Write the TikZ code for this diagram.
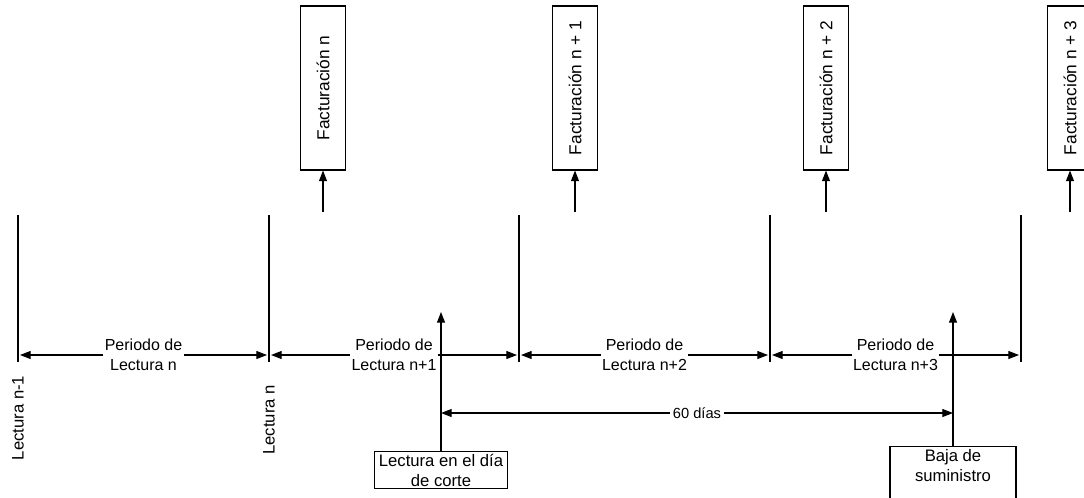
\documentclass[tikz,border=0pt]{standalone}
\usepackage{fontspec}
\setmainfont{Liberation Sans}
\usetikzlibrary{arrows.meta}
\begin{document}
\begin{tikzpicture}[x=0.75pt,y=-0.75pt,
  line width=0.8pt,
  tip/.style={-{Triangle[length=8pt,width=6pt]}},
  dbl/.style={{Triangle[length=8pt,width=6pt]}-{Triangle[length=8pt,width=6pt]}},
  per/.style={fill=white, align=center, font=\fontsize{12}{15}\selectfont, inner sep=1pt},
  rot/.style={rotate=90, font=\fontsize{12.5}{15}\selectfont},
  fact/.style={draw, rotate=90, minimum width=123pt, minimum height=34pt, font=\fontsize{13}{16}\selectfont, inner sep=2pt},
  evbox/.style={draw, align=center, font=\fontsize{12.5}{15}\selectfont, inner xsep=3pt, inner ysep=2pt},
  dur/.style={fill=white, font=\fontsize{11}{13}\selectfont, inner sep=2pt}]
\useasboundingbox (0,0) rectangle (1084,497);

% reading ticks
\foreach \i/\x in {0/18,1/269,2/519,3/770,4/1021} {
  \coordinate (t\i) at (\x,215);
  \coordinate (m\i) at (\x,355);
  \coordinate (b\i) at (\x,362);
  \draw (t\i) -- (b\i);
}

% reading periods
\draw[dbl, shorten <=1.5pt, shorten >=1.5pt] (m0) -- node[per] {Periodo de\\Lectura n} (m1);
\draw[dbl, shorten <=1.5pt, shorten >=1.5pt] (m1) -- node[per] {Periodo de\\Lectura n+1} (m2);
\draw[dbl, shorten <=1.5pt, shorten >=1.5pt] (m2) -- node[per] {Periodo de\\Lectura n+2} (m3);
\draw[dbl, shorten <=1.5pt, shorten >=1.5pt] (m3) -- node[per] {Periodo de\\Lectura n+3} (m4);

% reading labels
\node[rot] (l0) at (18,418) {Lectura n-1};
\node[rot] (l1) at (269,420) {Lectura n};

% billing
\node[fact] (f0) at (323,88) {Facturación n};
\node[fact] (f1) at (575,88) {Facturación n + 1};
\node[fact] (f2) at (826,88) {Facturación n + 2};
\node[fact] (f3) at (1070,88) {Facturación n + 3};
\foreach \i/\x in {0/323,1/575,2/826,3/1070} {
  \coordinate (a\i) at (\x,212);
  \draw[tip] (a\i) -- (f\i.west);
}

% events
\node[evbox] (corte) at (441,470) {Lectura en el día\\de corte};
\node[evbox, minimum width=94.5pt, anchor=north] (baja) at (953,446) {Baja de\\suministro\\\mbox{}};
\coordinate (c0) at (441,312);
\coordinate (c1) at (953,312);
\draw[tip] (corte.north) -- (c0);
\draw[tip] (baja.north) -- (c1);

% 60 days
\coordinate (d0) at (441,413);
\coordinate (d1) at (953,413);
\draw[dbl] (d0) -- node[dur] {60 días} (d1);
\end{tikzpicture}
\end{document}
